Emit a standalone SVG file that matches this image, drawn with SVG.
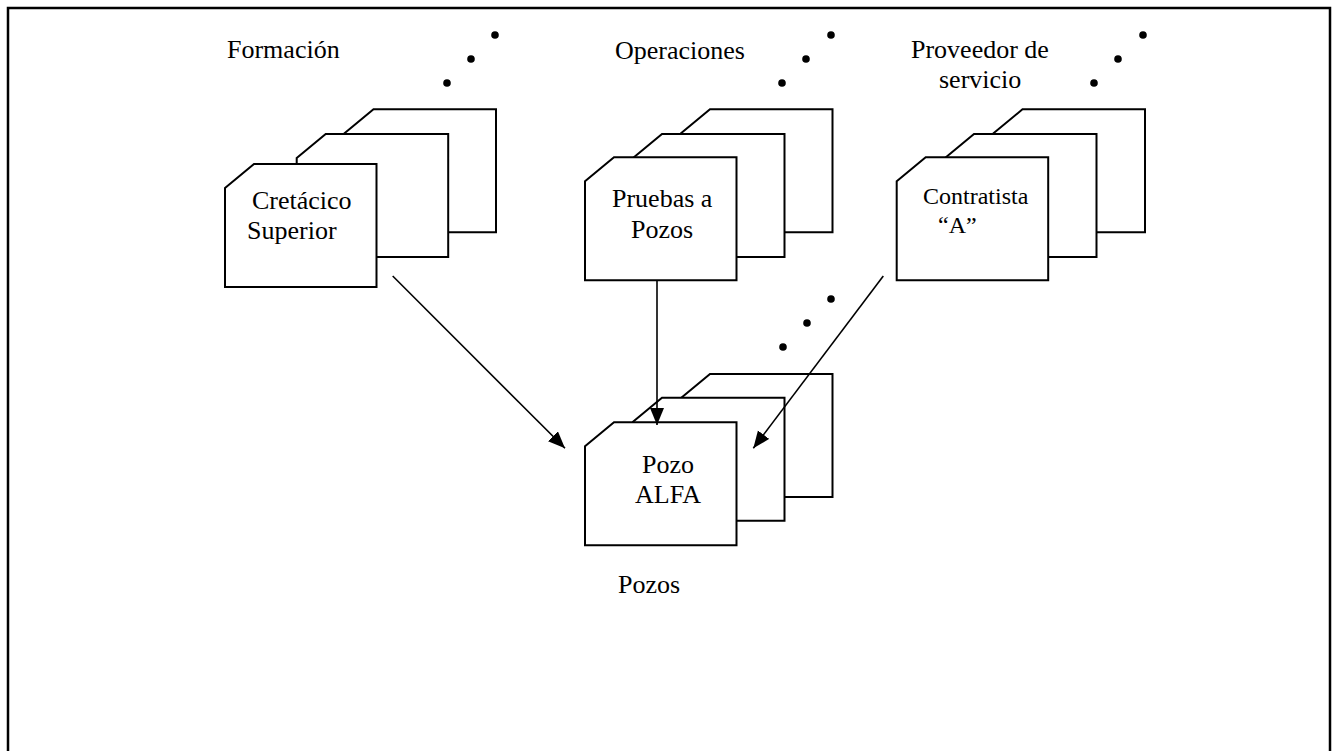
<svg xmlns="http://www.w3.org/2000/svg" xmlns:xlink="http://www.w3.org/1999/xlink" width="1335" height="751" viewBox="0 0 1335 751">
  <style>
    .card { fill: #ffffff; stroke: #000000; stroke-width: 2; }
    .lbl { font-family: "Liberation Serif", "Times New Roman", serif; font-size: 26px; fill: #000000; }
    .sm { font-size: 24px; }
    .dot { fill: #000000; }
    .conn { stroke: #000000; stroke-width: 1.6; fill: none; marker-end: url(#head); }
  </style>
  <defs>
    <!-- folded-corner sheet, origin at its top-left bounding corner -->
    <path id="card" d="M0,24 L29,0 L151.5,0 L151.5,123 L0,123 Z"/>
    <marker id="head" markerUnits="userSpaceOnUse" markerWidth="18" markerHeight="15" refX="17" refY="7" orient="auto">
      <path d="M0,0 L17,7 L0,14 Z" fill="#000000"/>
    </marker>
  </defs>

  <rect x="8" y="8" width="1322" height="760" fill="#ffffff" stroke="#000000" stroke-width="2.5"/>

  <g id="formacion">
    <text class="lbl" x="227" y="58">Formación</text>
    <circle class="dot" cx="495" cy="35" r="3.8"/>
    <circle class="dot" cx="471" cy="59" r="3.8"/>
    <circle class="dot" cx="447" cy="83" r="3.8"/>
    <use xlink:href="#card" class="card" x="344.5" y="109.3"/>
    <use xlink:href="#card" class="card" x="296.7" y="134"/>
    <use xlink:href="#card" class="card" x="225" y="164"/>
    <text class="lbl" x="252" y="209">Cretácico</text>
    <text class="lbl" x="247" y="239">Superior</text>
  </g>

  <g id="operaciones">
    <text class="lbl" x="615" y="59">Operaciones</text>
    <circle class="dot" cx="831" cy="35" r="3.8"/>
    <circle class="dot" cx="806" cy="59" r="3.8"/>
    <circle class="dot" cx="782" cy="83" r="3.8"/>
    <use xlink:href="#card" class="card" x="681" y="109.3"/>
    <use xlink:href="#card" class="card" x="633" y="134"/>
    <use xlink:href="#card" class="card" x="585" y="157.3"/>
    <text class="lbl" x="612" y="207">Pruebas a</text>
    <text class="lbl" x="631" y="238">Pozos</text>
  </g>

  <g id="proveedor">
    <text class="lbl" x="911" y="58">Proveedor de</text>
    <text class="lbl" x="939" y="88">servicio</text>
    <circle class="dot" cx="1143" cy="35" r="3.8"/>
    <circle class="dot" cx="1118" cy="59" r="3.8"/>
    <circle class="dot" cx="1094" cy="83" r="3.8"/>
    <use xlink:href="#card" class="card" x="993.5" y="109.3"/>
    <use xlink:href="#card" class="card" x="945" y="134"/>
    <use xlink:href="#card" class="card" x="896.7" y="157.3"/>
    <text class="lbl sm" x="923" y="204">Contratista</text>
    <text class="lbl sm" x="938" y="233">“A”</text>
  </g>

  <g id="pozos">
    <circle class="dot" cx="831" cy="299" r="3.8"/>
    <circle class="dot" cx="807" cy="323" r="3.8"/>
    <circle class="dot" cx="783" cy="347" r="3.8"/>
    <use xlink:href="#card" class="card" x="681" y="374"/>
    <use xlink:href="#card" class="card" x="633" y="397.7"/>
    <use xlink:href="#card" class="card" x="585" y="422.3"/>
    <text class="lbl" x="642" y="473">Pozo</text>
    <text class="lbl" x="635" y="503">ALFA</text>
    <text class="lbl" x="618" y="593">Pozos</text>
  </g>

  <g id="connectors">
    <line class="conn" x1="392.7" y1="276" x2="565" y2="448.3"/>
    <line class="conn" x1="657" y1="281" x2="657" y2="425"/>
    <line class="conn" x1="883.3" y1="276" x2="753.3" y2="448.3"/>
  </g>
</svg>
